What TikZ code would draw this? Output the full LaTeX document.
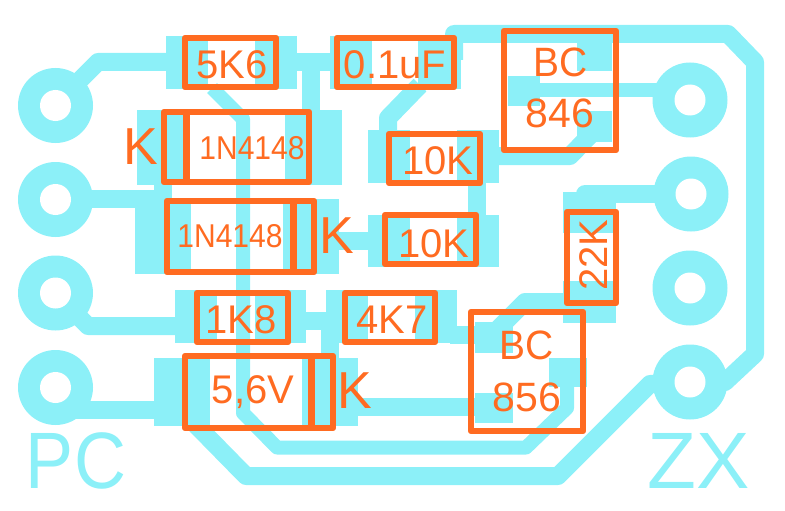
\documentclass[tikz,border=0pt]{standalone}
\usepackage{fontspec}
\setmainfont{Liberation Sans}
\definecolor{copper}{HTML}{8CF0F8}
\definecolor{silk}{HTML}{FF6B21}
\tikzset{
  track/.style={draw=copper,line width=18pt,line join=round},
  roundtrack/.style={track,line cap=round},
  thintrack/.style={draw=copper,line width=14pt,line join=round},
  smd/.style={fill=copper,draw=none},
  ring/.style={fill=copper,draw=none},
  drill/.style={fill=white,draw=none},
  outline/.style={draw=silk,line width=6.5pt,line join=round},
  bar/.style={fill=silk,draw=none},
  lbl/.style={text=silk,anchor=base,inner sep=0pt,font=\fontsize{40}{40}\selectfont},
  lblbc/.style={lbl,font=\fontsize{41}{41}\selectfont},
  lblsmall/.style={lbl,font=\fontsize{33}{33}\selectfont},
  lblk/.style={lbl,font=\fontsize{52}{52}\selectfont},
  silkcu/.style={text=copper,anchor=base,inner sep=0pt,font=\fontsize{80}{80}\selectfont},
}
\begin{document}
\begin{tikzpicture}[x=1pt,y=-1pt]
\useasboundingbox (0,0) rectangle (785,511);
% traces
\draw[track] (55,105) -- (98,62) -- (175,62);
\draw[track] (290,62) -- (340,62);
\draw[track] (311,62) -- (311,115);
\draw[thintrack] (212,88) -- (243,119) -- (243,413) -- (277,447.5) -- (526,447.5) -- (567,408) -- (567,380);
\draw[track] (420,85) -- (388,118) -- (388,135);
\draw[track] (454,60) -- (454,34) -- (728,34) -- (755,62) -- (755,354) -- (725,382) -- (690,382);
\draw[track] (55,199) -- (165,199);
\draw[track] (163,180) -- (163,205);
\draw[thintrack] (530,90) -- (690,90);
\draw[track] (495,156) -- (570,156) -- (600,125);
\draw[track] (477,175) -- (477,225);
\draw[track] (330,241) -- (375,241);
\draw[roundtrack] (585,194) -- (690,194);
\draw[track] (572,302) -- (525,302) -- (495,332);
\draw[track] (55,293) -- (88,326) -- (180,326);
\draw[track] (300,321) -- (330,321);
\draw[track] (330,325) -- (330,365);
\draw[track] (450,335) -- (480,335);
\draw[track] (60,410) -- (160,410);
\draw[track] (350,407) -- (480,407);
\draw[track] (195,424) -- (246,476) -- (558,476) -- (650,384) -- (690,382);
% pads
\fill[smd] (166,36) rectangle (208,89);
\fill[smd] (255,36) rectangle (297,89);
\fill[smd] (330,36) rectangle (372,89);
\fill[smd] (418,36) rectangle (461,89);
\fill[smd] (137,110) rectangle (187,185);
\fill[smd] (285,110) rectangle (342,185);
\fill[smd] (135,199) rectangle (191,274);
\fill[smd] (283,199) rectangle (339,274);
\fill[smd] (368,130) rectangle (410,183);
\fill[smd] (457,130) rectangle (499,183);
\fill[smd] (368,215) rectangle (410,267);
\fill[smd] (457,215) rectangle (499,267);
\fill[smd] (175,290) rectangle (217,343);
\fill[smd] (255,290) rectangle (306,343);
\fill[smd] (326,290) rectangle (368,343);
\fill[smd] (415,290) rectangle (457,343);
\fill[smd] (154,358) rectangle (210,426);
\fill[smd] (302,358) rectangle (358,426);
\fill[smd] (577,40) rectangle (612,71);
\fill[smd] (508,76) rectangle (540,106);
\fill[smd] (577,111) rectangle (612,142);
\fill[smd] (475,322) rectangle (513,353);
\fill[smd] (475,393) rectangle (513,423);
\fill[smd] (549,358) rectangle (587,387);
\fill[smd] (563,192) rectangle (616,233);
\fill[smd] (563,281) rectangle (616,323);
% through-hole pads
\foreach \px/\py in {55.5/105.5,55.5/199.5,55.5/293,55.5/387.5,690/100,691/194,690/288,690/382}{
  \fill[ring] (\px,\py) circle[radius=37.5pt];
  \fill[drill] (\px,\py) circle[radius=15.5pt];
}
% component outlines
\draw[outline] (185,38) rectangle (276,87);
\draw[outline] (337,38) rectangle (454,87);
\draw[outline] (164,112) rectangle (309,182);
\fill[bar] (183,112) rectangle (189.5,182);
\draw[outline] (167,201) rectangle (314,272);
\fill[bar] (290,201) rectangle (297,272);
\draw[outline] (389,134) rectangle (480,183);
\draw[outline] (385,215) rectangle (476,264);
\draw[outline] (504,31) rectangle (616,150);
\draw[outline] (567,212) rectangle (616,303);
\draw[outline] (197,293) rectangle (288,342);
\draw[outline] (345,293) rectangle (435,342);
\draw[outline] (185,356) rectangle (333,428);
\fill[bar] (308,356) rectangle (315,428);
\draw[outline] (471,312) rectangle (583,431);
% labels
\node[lbl] (r1) at (232,78) {5K6};
\node[lbl] (c1) at (395,78) {0.1uF};
\node[lblsmall] (d1) at (252,159) {\scalebox{0.91}[1]{1N4148}};
\node[lblsmall] (d2) at (230,247) {\scalebox{0.91}[1]{1N4148}};
\node[lblk] (k1) at (141,164) {K};
\node[lblk] (k2) at (337,253) {K};
\node[lblk] (k3) at (355,408) {K};
\node[lbl] (r2) at (438,174) {10K};
\node[lbl] (r3) at (434,257) {10K};
\node[lblbc] (q1a) at (561,77) {\scalebox{0.95}[1]{BC}};
\node[lblbc] (q1b) at (560,128) {846};
\node[lbl,rotate=90] (r4) at (607,255) {22K};
\node[lbl] (r5) at (241,333) {1K8};
\node[lbl] (r6) at (392,333) {4K7};
\node[lbl] (z1) at (253,403) {5,6V};
\node[lblbc] (q2a) at (527,359) {\scalebox{0.95}[1]{BC}};
\node[lblbc] (q2b) at (527,411) {856};
\node[silkcu] (pc) at (76,488) {\scalebox{0.9}[1]{PC}};
\node[silkcu] (zx) at (699,488) {ZX};
\end{tikzpicture}
\end{document}
